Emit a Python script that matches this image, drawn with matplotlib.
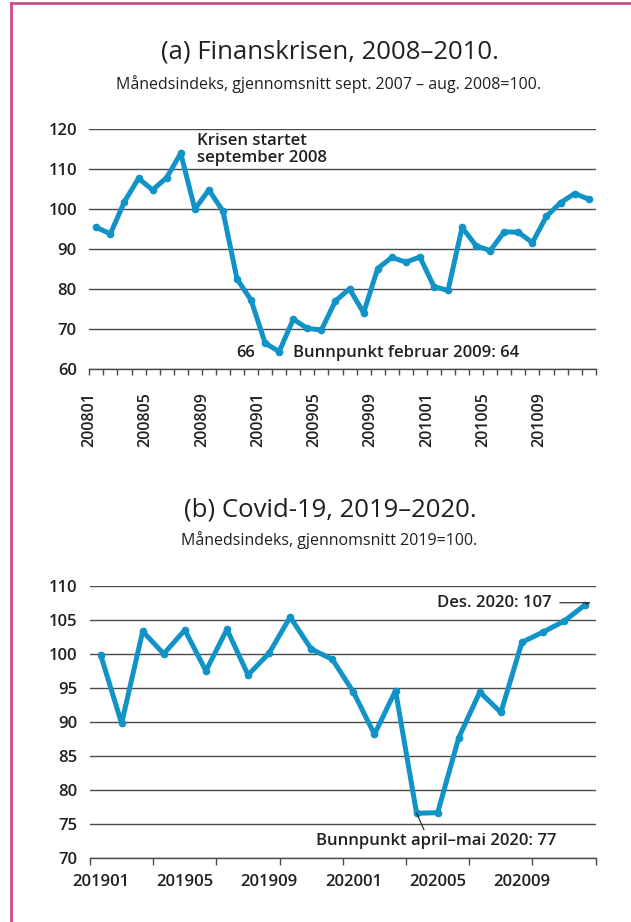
import matplotlib
matplotlib.use("Agg")
import matplotlib.pyplot as plt
from matplotlib.lines import Line2D

plt.rcParams['font.family'] = ['Open Sans', 'DejaVu Sans']

# ---- Data ----
fin_labels = ["200801", "200805", "200809", "200901", "200905", "200909",
              "201001", "201005", "201009"]
fin_values = [95.4, 93.8, 101.9, 107.7, 104.8, 107.9, 114.0, 100.0, 104.8, 99.5,
              82.5, 77.2, 66.4, 64.3, 72.4, 70.1, 69.7, 77.0, 80.0, 74.0,
              85.1, 87.9, 86.7, 88.0, 80.6, 79.6, 95.4, 90.8, 89.6, 94.3,
              94.2, 91.6, 98.2, 101.6, 103.9, 102.5]

cov_labels = ["201901", "201905", "201909", "202001", "202005", "202009"]
cov_values = [99.9, 89.8, 103.3, 100.0, 103.5, 97.5, 103.6, 96.9, 100.1, 105.4,
              100.7, 99.2, 94.4, 88.2, 94.6, 76.6, 76.7, 87.7, 94.4, 91.4,
              101.7, 103.2, 104.8, 107.2]

LINE = "#1193C8"
GRID = "#4a4a4a"
TXT = "#231f20"
BORDER = "#cc4b87"
TICKFS = 12

fig = plt.figure(figsize=(6.31, 9.22), dpi=100)

# border (left and top)
fig.add_artist(Line2D([11/631, 11/631], [0, 1 - 3/922], transform=fig.transFigure,
                      color=BORDER, lw=2.0))
fig.add_artist(Line2D([11/631, 1], [1 - 3/922, 1 - 3/922], transform=fig.transFigure,
                      color=BORDER, lw=2.0))

def style_axes(ax, ymin, ymax, ystep):
    ax.set_ylim(ymin, ymax)
    ax.set_yticks(range(ymin, ymax + 1, ystep))
    for s in ['left', 'right', 'top']:
        ax.spines[s].set_visible(False)
    ax.spines['bottom'].set_color(GRID)
    ax.spines['bottom'].set_linewidth(1.0)
    ax.yaxis.grid(True, color=GRID, lw=1.0)
    ax.set_axisbelow(True)
    ax.tick_params(axis='y', length=0, pad=9, labelsize=TICKFS, labelcolor=TXT)
    for t in ax.get_yticklabels():
        t.set_fontweight('semibold')

# ---- Panel (a) ----
fig.text(0.523, 1 - 52/922, "(a) Finanskrisen, 2008–2010.", ha='center', va='center',
         fontsize=18.5, color=TXT)
fig.text(0.521, 1 - 84/922, "Månedsindeks, gjennomsnitt sept. 2007 – aug. 2008=100.",
         ha='center', va='center', fontsize=11.5, fontweight='medium', color=TXT)

ax1 = fig.add_axes([89.3/631, 1 - 368.7/922, (595.7 - 89.3)/631, (368.7 - 129.3)/922])
n1 = len(fin_values)
x1 = [i + 0.5 for i in range(n1)]
ax1.plot(x1, fin_values, color=LINE, lw=3.6, marker='o', ms=4.5, solid_joinstyle='round',
         solid_capstyle='round', zorder=3)
ax1.set_xlim(0, n1)
style_axes(ax1, 60, 120, 10)
ax1.set_xticks(range(0, n1 + 1))
ax1.set_xticklabels([fin_labels[i // 4] if (i % 4 == 0 and i // 4 < len(fin_labels)) else ""
                     for i in range(0, n1 + 1)], rotation=90)
ax1.tick_params(axis='x', length=4, width=1.0, color=GRID, pad=13, labelsize=TICKFS - 0.5,
                labelcolor=TXT)
for t in ax1.get_xticklabels():
    t.set_fontweight('semibold')

ax1.text(7.65, 119.0, "Krisen startet\nseptember 2008", ha='left', va='top',
         fontsize=12, fontweight='semibold', color=TXT, linespacing=1.05)
ax1.text(11.1, 63.9, "66", ha='center', va='center', fontsize=12,
         fontweight='semibold', color=TXT)
ax1.text(14.5, 63.9, "Bunnpunkt februar 2009: 64", ha='left', va='center', fontsize=12,
         fontweight='semibold', color=TXT)

# ---- Panel (b) ----
fig.text(0.523, 1 - 510/922, "(b) Covid-19, 2019–2020.", ha='center', va='center',
         fontsize=18.5, color=TXT)
fig.text(0.521, 1 - 540/922, "Månedsindeks, gjennomsnitt 2019=100.",
         ha='center', va='center', fontsize=11.5, fontweight='medium', color=TXT)

ax2 = fig.add_axes([90/631, 1 - 858.3/922, (595.7 - 90)/631, (858.3 - 585.7)/922])
n2 = len(cov_values)
x2 = [i + 0.5 for i in range(n2)]
ax2.plot(x2, cov_values, color=LINE, lw=3.6, marker='o', ms=4.5, solid_joinstyle='round',
         solid_capstyle='round', zorder=3)
ax2.set_xlim(0, n2)
style_axes(ax2, 70, 110, 5)
ax2.set_xticks(range(0, n2 + 1, 3))
ax2.set_xticklabels([])
ax2.set_xticks([i * 4 + 0.5 for i in range(len(cov_labels))], minor=True)
ax2.set_xticklabels(cov_labels, minor=True)
ax2.tick_params(axis='x', which='major', length=5, width=1.0, color=GRID)
ax2.tick_params(axis='x', which='minor', length=0, pad=11, labelsize=TICKFS, labelcolor=TXT)
for t in ax2.get_xticklabels(minor=True):
    t.set_fontweight('semibold')

ax2.annotate("Des. 2020: 107", xy=(x2[-1], cov_values[-1]), xytext=(21.9, 107.5),
             ha='right', va='center', fontsize=12, fontweight='semibold', color=TXT,
             arrowprops=dict(arrowstyle='-', color=TXT, lw=0.8, shrinkA=4, shrinkB=1,
                             connectionstyle="angle,angleA=0,angleB=25,rad=0"))
ax2.annotate("Bunnpunkt april–mai 2020: 77", xy=(x2[15], cov_values[15]),
             xytext=(22.15, 72.5), ha='right', va='center', fontsize=12,
             fontweight='semibold', color=TXT)
ax2.plot([x2[15], 15.85], [cov_values[15], 74.2], color=TXT, lw=0.8, zorder=4)

fig.savefig("out.png", dpi=100)
